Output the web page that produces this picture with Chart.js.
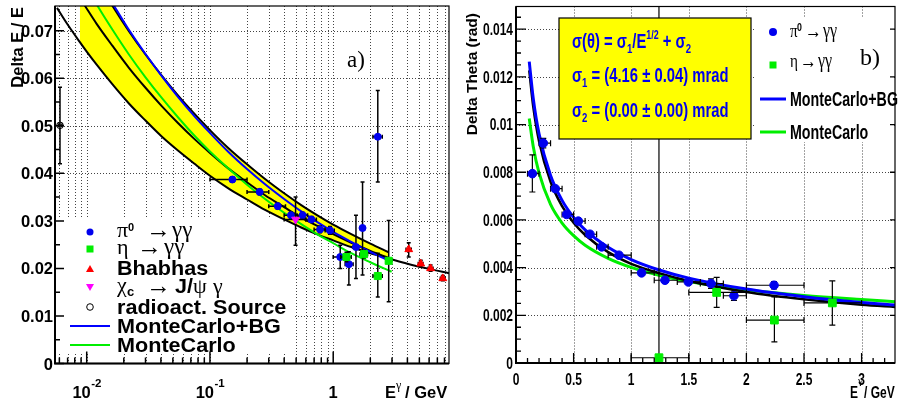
<!DOCTYPE html>
<html><head><meta charset="utf-8">
<script src="https://cdn.jsdelivr.net/npm/chart.js@4.4.1/dist/chart.umd.min.js"></script>
<style>
html,body{margin:0;padding:0;background:#fff;width:908px;height:405px;overflow:hidden}
#wa{position:absolute;left:0;top:0;width:455px;height:405px}
#wb{position:absolute;left:455px;top:0;width:453px;height:405px}
</style></head><body>
<div id="wa"><canvas id="ca"></canvas></div>
<div id="wb"><canvas id="cb"></canvas></div>
<script>
// ================= Panel a) data =================
const aXGrid = [0.006,0.007,0.008,0.009,0.01,0.02,0.03,0.04,0.05,0.06,0.07,0.08,0.09,0.1,0.2,0.3,0.4,0.5,0.6,0.7,0.8,0.9,1,2,3,4,5,6,7,8];
const aXMajor = [0.01,0.1,1];
const aXMajorLbl = ['10','10','1'];
const aXMajorExp = ['-2','-1',''];
const aYMajor = [0,0.01,0.02,0.03,0.04,0.05,0.06,0.07];
const aYLbl = ['0','0.01','0.02','0.03','0.04','0.05','0.06','0.07'];
const aYMinor = [0.005,0.015,0.025,0.035,0.045,0.055,0.065];

// yellow band (upper / lower edge)
const aBandE  = [0.0088,0.0100,0.0120,0.0162,0.022,0.03,0.0408,0.055,0.075,0.1,0.14,0.2,0.28,0.4,0.55,0.75,1.0,1.4,2.0,2.82];
const aBandHi = [0.0870,0.0844,0.0808,0.0752,0.0699,0.0650,0.0605,0.0564,0.0525,0.0491,0.0454,0.0419,0.0388,0.0358,0.0333,0.0311,0.0292,0.0272,0.0252,0.0234];
const aBandLo = [0.0676,0.0656,0.0629,0.0587,0.0547,0.0511,0.0477,0.0448,0.0420,0.0395,0.0369,0.0345,0.0323,0.0303,0.0286,0.0271,0.0259,0.0245,0.0232,0.0221];
// long black lower line
const aLowE = [0.00574,0.0070,0.0088,0.0100,0.0120,0.0162,0.022,0.03,0.0408,0.055,0.075,0.1,0.14,0.2,0.28,0.4,0.55,0.75,1.0,1.4,2.0,2.82,4.0,6.0,8.7];
const aLowR = [0.0748,0.0713,0.0676,0.0656,0.0629,0.0587,0.0547,0.0511,0.0477,0.0448,0.0420,0.0395,0.0369,0.0345,0.0323,0.0303,0.0286,0.0271,0.0259,0.0245,0.0232,0.0221,0.0210,0.0199,0.0190];
// middle black line
const aMidE = [0.0088,0.00964,0.012,0.0162,0.022,0.03,0.0408,0.055,0.075,0.1,0.14,0.2,0.28,0.4,0.55,0.75,1.0,1.4,2.0,2.82];
const aMidR = [0.0769,0.0753,0.0715,0.0668,0.0622,0.0580,0.0541,0.0506,0.0472,0.0443,0.0411,0.0381,0.0354,0.0329,0.0307,0.0289,0.0272,0.0254,0.0237,0.0222];
// MonteCarlo (green)
const aMcE = [0.011,0.01226,0.0162,0.022,0.03,0.0408,0.055,0.075,0.1,0.14,0.2,0.28,0.4,0.55,0.75,1.0,1.4,2.0,2.98];
const aMcR = [0.0773,0.0752,0.0702,0.0650,0.0602,0.0558,0.0518,0.0479,0.0446,0.0411,0.0376,0.0346,0.0317,0.0293,0.0271,0.0253,0.0232,0.0213,0.0193];
// MonteCarlo+BG (blue)
const aMcbgE = [0.015,0.0165,0.022,0.03,0.0408,0.055,0.075,0.1,0.14,0.2,0.28,0.4,0.55,0.75,1.0,1.4,2.0,2.85];
const aMcbgR = [0.0770,0.0754,0.0702,0.0651,0.0604,0.0561,0.0520,0.0485,0.0446,0.0409,0.0377,0.0346,0.0320,0.0297,0.0277,0.0256,0.0235,0.0216];

// pi0 -> gg
const piE   = [0.152,0.253,0.355,0.454,0.564,0.666,0.782,0.941,1.14,1.34,1.53,1.73,2.30];
const piR   = [0.0387,0.0361,0.0331,0.0312,0.0312,0.0303,0.0282,0.0280,0.0224,0.0209,0.0245,0.0285,0.0477];
const piElo = [0.10,0.20,0.30,0.40,0.51,0.60,0.70,0.86,1.00,1.25,1.45,1.65,2.10];
const piEhi = [0.20,0.30,0.41,0.51,0.62,0.73,0.86,1.02,1.25,1.45,1.60,1.80,2.50];
const piRlo = [0.0381,0.0355,0.0325,0.0306,0.0306,0.0297,0.0275,0.0272,0.0200,0.0165,0.0179,0.0186,0.0382];
const piRhi = [0.0393,0.0367,0.0337,0.0318,0.0318,0.0309,0.0289,0.0288,0.0249,0.0235,0.0312,0.0382,0.0574];
// eta -> gg
const etaE   = [1.28,1.78,2.30,2.82];
const etaR   = [0.0224,0.0230,0.0184,0.0216];
const etaElo = [1.15,1.65,2.10,2.70];
const etaEhi = [1.40,1.90,2.50,2.95];
const etaRlo = [0.0214,0.0222,0.0140,0.0130];
const etaRhi = [0.0234,0.0238,0.0232,0.0301];
// Bhabhas
const bhE   = [4.10,5.13,6.17,7.75];
const bhR   = [0.0240,0.0210,0.0200,0.0179];
const bhElo = [3.90,4.90,5.90,7.40];
const bhEhi = [4.30,5.35,6.45,8.10];
const bhRlo = [0.0224,0.0203,0.0194,0.0174];
const bhRhi = [0.0254,0.0217,0.0207,0.0185];
// chi_c -> J/psi gamma
const chiE = [0.495], chiR = [0.0303], chiElo = [0.40], chiEhi = [0.60], chiRlo = [0.0249], chiRhi = [0.0350];
// radioactive source
const srcE = [0.00607], srcR = [0.0501], srcElo = [0.0059], srcEhi = [0.0063], srcRlo = [0.0420], srcRhi = [0.0581];

// ================= Panel b) data =================
const bXMajor = [0,0.5,1,1.5,2,2.5,3];
const bXLbl = ['0','0.5','1','1.5','2','2.5','3'];
const bXMinor = [0.1,0.2,0.3,0.4,0.6,0.7,0.8,0.9,1.1,1.2,1.3,1.4,1.6,1.7,1.8,1.9,2.1,2.2,2.3,2.4,2.6,2.7,2.8,2.9,3.1,3.2];
const bYMajor = [0,0.002,0.004,0.006,0.008,0.01,0.012,0.014];
const bYLbl = ['0','0.002','0.004','0.006','0.008','0.01','0.012','0.014'];
const bYMinor = [0.0005,0.001,0.0015,0.0025,0.003,0.0035,0.0045,0.005,0.0055,0.0065,0.007,0.0075,0.0085,0.009,0.0095,0.0105,0.011,0.0115,0.0125,0.013,0.0135,0.0145];

const bCurveE = [0.115,0.15,0.2,0.3,0.4,0.5,0.6,0.8,1.0,1.25,1.5,2.0,2.5,3.0,3.3];
const bFit  = [0.01227,0.01074,0.0093,0.0076,0.00658,0.00588,0.00537,0.00465,0.00416,0.00376,0.00344,0.00298,0.00267,0.00244,0.00235];
const bMcbg = [0.01264,0.01108,0.00961,0.00786,0.00682,0.00611,0.00558,0.00485,0.00434,0.00389,0.00356,0.0031,0.00278,0.00254,0.00243];
const bMc   = [0.01025,0.00907,0.00797,0.00665,0.00587,0.00534,0.00494,0.00439,0.00401,0.00367,0.00342,0.00307,0.00283,0.00266,0.00257];

const bPiE   = [0.142,0.237,0.341,0.44,0.541,0.642,0.744,0.894,1.09,1.293,1.496,1.693,1.892,2.24];
const bPiT   = [0.00794,0.00922,0.00731,0.00623,0.00595,0.0054,0.00487,0.00452,0.00378,0.00347,0.0034,0.00333,0.00282,0.00326];
const bPiElo = [0.1,0.2,0.3,0.4,0.5,0.6,0.7,0.8,1.0,1.2,1.4,1.6,1.8,2.0];
const bPiEhi = [0.2,0.3,0.4,0.5,0.6,0.7,0.8,1.0,1.2,1.4,1.6,1.8,2.0,2.5];
const bPiTlo = [0.00717,0.00902,0.00721,0.00613,0.00585,0.0053,0.00477,0.00442,0.00368,0.00337,0.0033,0.00313,0.00262,0.00311];
const bPiThi = [0.00873,0.00942,0.00741,0.00633,0.00605,0.0055,0.00497,0.00462,0.00388,0.00357,0.0035,0.00353,0.00302,0.00341];
const bEtaE   = [1.241,1.742,2.243,2.746];
const bEtaT   = [0.00022,0.00296,0.0018,0.00252];
const bEtaElo = [1.0,1.5,2.0,2.5];
const bEtaEhi = [1.5,2.0,2.5,3.0];
const bEtaTlo = [0,0.00233,0.00089,0.00159];
const bEtaThi = [0.016,0.00359,0.00277,0.00344];

// ================= helpers =================
const SANS = '"Liberation Sans", Arial, Helvetica, sans-serif';
const SERIF = '"Liberation Serif", "DejaVu Serif", "Times New Roman", serif';
function fnt(size, o){ return ((o && o.serif) ? '' : 'bold ') + size + 'px ' + ((o && o.serif) ? SERIF : SANS); }
function T(ctx, s, x, y, size, o){
  o = o || {};
  ctx.save();
  ctx.font = fnt(size, o);
  ctx.fillStyle = o.color || '#000';
  ctx.textBaseline = 'alphabetic';
  ctx.translate(x, y);
  if (o.rot) ctx.rotate(o.rot);
  ctx.scale(o.sx || 1, 1);
  ctx.textAlign = o.align || 'left';
  ctx.fillText(s, 0, 0);
  ctx.restore();
}
function W(ctx, s, size, o){ ctx.save(); ctx.font = fnt(size, o); const w = ctx.measureText(s).width * ((o && o.sx) || 1); ctx.restore(); return w; }
function R(ctx, x, y, parts, sx, color){
  ctx.save(); ctx.fillStyle = color || '#000'; ctx.textBaseline='alphabetic'; ctx.textAlign='left';
  ctx.translate(x, y); ctx.scale(sx || 1, 1);
  let cx = 0;
  parts.forEach(p => { ctx.font = fnt(p[1], {serif:p[3]}); ctx.fillText(p[0], cx, p[2] || 0); cx += ctx.measureText(p[0]).width; });
  ctx.restore();
}
function pts(xs, ys){ return xs.map((x,i) => ({x:x, y:ys[i]})); }

const errPlugin = {
  id:'errbars',
  beforeDatasetDraw(chart, args){
    const ds = chart.data.datasets[args.index];
    if (!ds.errs) return;
    const ctx = chart.ctx, ca = chart.chartArea, x = chart.scales.x, y = chart.scales.y, e = ds.errs;
    ctx.save();
    ctx.beginPath(); ctx.rect(ca.left, ca.top, ca.right - ca.left, ca.bottom - ca.top); ctx.clip();
    ctx.strokeStyle = '#000'; ctx.lineWidth = e.lw || 1;
    ctx.beginPath();
    const c = e.cap || 2;
    ds.data.forEach((p, i) => {
      const px = x.getPixelForValue(p.x), py = y.getPixelForValue(p.y);
      if (e.xlo){ const x1 = x.getPixelForValue(e.xlo[i]), x2 = x.getPixelForValue(e.xhi[i]);
        ctx.moveTo(x1, py); ctx.lineTo(x2, py);
        ctx.moveTo(x1, py - c); ctx.lineTo(x1, py + c); ctx.moveTo(x2, py - c); ctx.lineTo(x2, py + c); }
      if (e.ylo){ const y1 = y.getPixelForValue(e.ylo[i]), y2 = y.getPixelForValue(e.yhi[i]);
        ctx.moveTo(px, y1); ctx.lineTo(px, y2);
        ctx.moveTo(px - c, y1); ctx.lineTo(px + c, y1); ctx.moveTo(px - c, y2); ctx.lineTo(px + c, y2); }
    });
    ctx.stroke(); ctx.restore();
  }
};

function gridPlugin(xs, ys, box){
  return {
    id:'grid',
    beforeDatasetsDraw(chart){
      const ctx = chart.ctx, ca = chart.chartArea, x = chart.scales.x, y = chart.scales.y;
      ctx.save();
      ctx.strokeStyle = '#444'; ctx.lineWidth = 1; ctx.setLineDash([1,2]);
      ctx.beginPath();
      xs.forEach(v => { const p = Math.round(x.getPixelForValue(v)) + 0.5; ctx.moveTo(p, ca.top); ctx.lineTo(p, ca.bottom); });
      ys.forEach(v => { const p = Math.round(y.getPixelForValue(v)) + 0.5; ctx.moveTo(ca.left, p); ctx.lineTo(ca.right, p); });
      ctx.stroke();
      ctx.setLineDash([]);
      ctx.fillStyle = '#fff';
      ctx.fillRect(box[0], box[1], box[2], box[3]);
      ctx.restore();
    }
  };
}

function lineDs(xs, ys, color, w, order, extra){
  return Object.assign({type:'line', data:pts(xs, ys), borderColor:color, borderWidth:w, pointRadius:0,
    fill:false, cubicInterpolationMode:'monotone', order:order}, extra || {});
}
function markDs(xs, ys, style, color, r, order, errs, extra){
  return Object.assign({type:'scatter', data:pts(xs, ys), pointStyle:style, pointRadius:r, backgroundColor:color,
    borderColor:color, borderWidth:1, order:order, errs:errs}, extra || {});
}

// ================= Panel a =================
const aDecor = {
  id:'aDecor',
  afterDatasetsDraw(chart){
    const ctx = chart.ctx, ca = chart.chartArea, x = chart.scales.x, y = chart.scales.y;
    ctx.save();
    ctx.strokeStyle = '#000'; ctx.lineWidth = 1.2;
    ctx.strokeRect(ca.left, ca.top, ca.right - ca.left, ca.bottom - ca.top);
    ctx.lineWidth = 2;
    ctx.beginPath(); ctx.moveTo(ca.left, ca.top); ctx.lineTo(ca.left, ca.bottom); ctx.lineTo(ca.right, ca.bottom); ctx.stroke();
    ctx.lineWidth = 1.5; ctx.beginPath();
    aYMajor.forEach(v => { const p = y.getPixelForValue(v); ctx.moveTo(ca.left, p); ctx.lineTo(ca.left + 9, p); });
    aYMinor.forEach(v => { const p = y.getPixelForValue(v); ctx.moveTo(ca.left, p); ctx.lineTo(ca.left + 5, p); });
    aXGrid.forEach(v => { const p = x.getPixelForValue(v); const L = aXMajor.indexOf(v) >= 0 ? 12 : 6; ctx.moveTo(p, ca.bottom); ctx.lineTo(p, ca.bottom - L); });
    ctx.stroke();
    aYMajor.forEach((v, i) => T(ctx, aYLbl[i], 53, y.getPixelForValue(v) + 6, 16.5, {align:'right'}));
    aXMajor.forEach((v, i) => {
      const p = x.getPixelForValue(v);
      if (aXMajorExp[i]) {
        const w1 = W(ctx, aXMajorLbl[i], 16.5), w2 = W(ctx, aXMajorExp[i], 11.5);
        const s = p - (w1 + w2) / 2;
        T(ctx, aXMajorLbl[i], s, 398, 16.5);
        T(ctx, aXMajorExp[i], s + w1 + 0.5, 387, 11.5);
      } else T(ctx, aXMajorLbl[i], p, 398, 16.5, {align:'center'});
    });
    T(ctx, 'E', 385, 398, 16.5);
    T(ctx, 'γ', 396, 389, 12, {serif:true});
    T(ctx, '/ GeV', 405, 398, 16.5);
    T(ctx, 'Delta E / E', 22.5, 7, 16.5, {rot:-Math.PI/2, align:'right'});
    T(ctx, 'a)', 347, 67, 23, {serif:true});
    // legend
    ctx.fillStyle = '#0000ee'; ctx.beginPath(); ctx.arc(90, 232, 3.5, 0, 2*Math.PI); ctx.fill();
    ctx.fillStyle = '#00ee00'; ctx.fillRect(86.5, 245.5, 7, 7);
    ctx.fillStyle = '#ff0000'; ctx.beginPath(); ctx.moveTo(90, 265); ctx.lineTo(94, 272); ctx.lineTo(86, 272); ctx.closePath(); ctx.fill();
    ctx.fillStyle = '#ff00ff'; ctx.beginPath(); ctx.moveTo(90, 291); ctx.lineTo(94, 284); ctx.lineTo(86, 284); ctx.closePath(); ctx.fill();
    ctx.strokeStyle = '#000'; ctx.lineWidth = 1; ctx.beginPath(); ctx.arc(90, 307, 3.3, 0, 2*Math.PI); ctx.stroke();
    ctx.lineWidth = 2;
    ctx.strokeStyle = '#0000ff'; ctx.beginPath(); ctx.moveTo(70, 326); ctx.lineTo(110, 326); ctx.stroke();
    ctx.strokeStyle = '#00ee00'; ctx.beginPath(); ctx.moveTo(70, 345); ctx.lineTo(110, 345); ctx.stroke();
    T(ctx, 'π', 117, 237, 22, {serif:true});
    T(ctx, '0', 128, 231, 11);
    T(ctx, '→', 146, 238, 25, {serif:true});
    T(ctx, 'γγ', 172, 237, 23, {serif:true});
    T(ctx, 'η', 117, 254, 22, {serif:true});
    T(ctx, '→', 137, 255, 25, {serif:true});
    T(ctx, 'γγ', 164, 254, 23, {serif:true});
    T(ctx, 'Bhabhas', 117, 275, 20, {sx:1.08});
    T(ctx, 'χ', 117, 292, 22, {serif:true});
    T(ctx, 'c', 127, 296, 13);
    T(ctx, '→', 146, 294, 25, {serif:true});
    T(ctx, 'J/', 175, 293, 20, {sx:1.08});
    T(ctx, 'ψ', 193, 293, 22, {serif:true});
    T(ctx, 'γ', 213, 293, 22, {serif:true});
    T(ctx, 'radioact. Source', 117, 314, 20, {sx:1.08});
    T(ctx, 'MonteCarlo+BG', 117, 333, 20, {sx:1.08});
    T(ctx, 'MonteCarlo', 117, 352, 20, {sx:1.08});
    ctx.restore();
  }
};

new Chart(document.getElementById('ca'), {
  type:'scatter',
  data:{datasets:[
    lineDs(aBandE, aBandHi, '#000', 2, 50, {fill:1, backgroundColor:'#ffff00'}),
    lineDs(aBandE, aBandLo, 'rgba(0,0,0,0)', 0, 60),
    lineDs(aLowE, aLowR, '#000', 2, 40),
    lineDs(aMidE, aMidR, '#000', 2, 40),
    lineDs(aMcE, aMcR, '#00ee00', 2, 30),
    lineDs(aMcbgE, aMcbgR, '#0000ff', 2, 20),
    markDs(piE, piR, 'circle', '#0000ee', 3.5, 5, {xlo:piElo, xhi:piEhi, ylo:piRlo, yhi:piRhi, lw:1.5, cap:2}),
    markDs(etaE, etaR, 'rect', '#00ee00', 5, 4, {xlo:etaElo, xhi:etaEhi, ylo:etaRlo, yhi:etaRhi, lw:1.5, cap:2}),
    markDs(bhE, bhR, 'triangle', '#ff0000', 4.5, 4, {xlo:bhElo, xhi:bhEhi, ylo:bhRlo, yhi:bhRhi, lw:1.5, cap:2}),
    markDs(chiE, chiR, 'triangle', '#ff00ff', 4.5, 4, {xlo:chiElo, xhi:chiEhi, ylo:chiRlo, yhi:chiRhi, lw:1.5, cap:2}, {rotation:180}),
    markDs(srcE, srcR, 'circle', 'rgba(0,0,0,0)', 3.3, 4, {xlo:srcElo, xhi:srcEhi, ylo:srcRlo, yhi:srcRhi, lw:1.5, cap:2}, {borderColor:'#000'})
  ]},
  options:{
    responsive:true, maintainAspectRatio:false, animation:false, events:[],
    layout:{padding:{top:5, right:2, left:0, bottom:0}},
    plugins:{legend:{display:false}, tooltip:{enabled:false}},
    scales:{
      x:{type:'logarithmic', min:0.00553, max:8.7, ticks:{display:false}, grid:{display:false}, border:{display:false}, afterFit(s){ s.height = 41.5; }},
      y:{type:'linear', min:0, max:0.0752, ticks:{display:false}, grid:{display:false}, border:{display:false}, afterFit(s){ s.width = 55; }}
    }
  },
  plugins:[gridPlugin(aXGrid, aYMajor.slice(1), [57, 219, 238, 135]), errPlugin, aDecor]
});

// ================= Panel b =================
const G = 455;
const bDecor = {
  id:'bDecor',
  afterDatasetsDraw(chart){
    const ctx = chart.ctx, ca = chart.chartArea, x = chart.scales.x, y = chart.scales.y;
    ctx.save();
    ctx.strokeStyle = '#000'; ctx.lineWidth = 1.2;
    ctx.strokeRect(ca.left, ca.top, ca.right - ca.left, ca.bottom - ca.top);
    ctx.lineWidth = 2;
    ctx.beginPath(); ctx.moveTo(ca.left, ca.top); ctx.lineTo(ca.left, ca.bottom); ctx.lineTo(ca.right, ca.bottom); ctx.stroke();
    ctx.lineWidth = 1.3; ctx.beginPath();
    bYMajor.forEach(v => { const p = y.getPixelForValue(v); ctx.moveTo(ca.left, p); ctx.lineTo(ca.left + 10, p); ctx.moveTo(ca.right, p); ctx.lineTo(ca.right - 5, p); });
    bYMinor.forEach(v => { const p = y.getPixelForValue(v); ctx.moveTo(ca.left, p); ctx.lineTo(ca.left + 5, p); });
    bXMajor.forEach(v => { const p = x.getPixelForValue(v); ctx.moveTo(p, ca.bottom); ctx.lineTo(p, ca.bottom - 10); });
    bXMinor.forEach(v => { const p = x.getPixelForValue(v); ctx.moveTo(p, ca.bottom); ctx.lineTo(p, ca.bottom - 5); });
    ctx.stroke();
    bYMajor.forEach((v, i) => T(ctx, bYLbl[i], ca.left - 3, y.getPixelForValue(v) + 5.7, 16, {align:'right', sx:0.75}));
    bXMajor.forEach((v, i) => T(ctx, bXLbl[i], x.getPixelForValue(v), 385, 16, {align:'center', sx:0.75}));
    ctx.translate(-G, 0);
    T(ctx, 'E', 850, 398, 16, {sx:0.75});
    T(ctx, 'γ', 858, 384, 11, {serif:true});
    T(ctx, '/ GeV', 864, 398, 16, {sx:0.75});
    T(ctx, 'Delta Theta (rad)', 477, 13, 15.5, {rot:-Math.PI/2, align:'right'});
    T(ctx, 'b)', 860, 65, 24, {serif:true});
    ctx.fillStyle = '#ffff00'; ctx.fillRect(559, 18, 192, 121);
    ctx.strokeStyle = '#000'; ctx.lineWidth = 1.2; ctx.strokeRect(559, 18, 192, 121);
    const BL = '#0000ee';
    R(ctx, 572, 48, [['σ(θ) = σ',20],['1',13,5],['/E',20],['1/2',12,-9],[' + σ',20],['2',13,5]], 0.74, BL);
    R(ctx, 572, 82, [['σ',20],['1',13,5],[' = (4.16 ± 0.04) mrad',20]], 0.74, BL);
    R(ctx, 572, 116.5, [['σ',20],['2',13,5],[' = (0.00 ± 0.00) mrad',20]], 0.74, BL);
    ctx.fillStyle = '#0000ee'; ctx.beginPath(); ctx.arc(773, 32, 4, 0, 2*Math.PI); ctx.fill();
    ctx.fillStyle = '#00ee00'; ctx.fillRect(769.5, 61.5, 7, 7);
    ctx.lineWidth = 3;
    ctx.strokeStyle = '#0000ff'; ctx.beginPath(); ctx.moveTo(760, 99); ctx.lineTo(786, 99); ctx.stroke();
    ctx.strokeStyle = '#00ee00'; ctx.beginPath(); ctx.moveTo(760, 132); ctx.lineTo(786, 132); ctx.stroke();
    T(ctx, 'π', 790, 37, 19, {serif:true, sx:0.8});
    T(ctx, '0', 797, 31, 11, {sx:0.8});
    T(ctx, '→', 805, 38, 21, {serif:true, sx:0.8});
    T(ctx, 'γγ', 823, 37, 20, {serif:true, sx:0.8});
    T(ctx, 'η', 790, 67, 19, {serif:true, sx:0.8});
    T(ctx, '→', 800, 68, 21, {serif:true, sx:0.8});
    T(ctx, 'γγ', 818, 67, 20, {serif:true, sx:0.8});
    T(ctx, 'MonteCarlo+BG', 790, 106, 19.5, {sx:0.73});
    T(ctx, 'MonteCarlo', 790, 139, 19.5, {sx:0.73});
    ctx.restore();
  }
};

new Chart(document.getElementById('cb'), {
  type:'scatter',
  data:{datasets:[
    lineDs(bCurveE, bMc, '#00ee00', 3, 40),
    lineDs(bCurveE, bFit, '#000', 2.5, 30),
    lineDs(bCurveE, bMcbg, '#0000ff', 3, 20),
    markDs(bPiE, bPiT, 'circle', '#0000ee', 4.3, 5, {xlo:bPiElo, xhi:bPiEhi, ylo:bPiTlo, yhi:bPiThi, lw:1.2, cap:3}),
    markDs(bEtaE, bEtaT, 'rect', '#00ee00', 5.5, 4, {xlo:bEtaElo, xhi:bEtaEhi, ylo:bEtaTlo, yhi:bEtaThi, lw:1.2, cap:3})
  ]},
  options:{
    responsive:true, maintainAspectRatio:false, animation:false, events:[],
    layout:{padding:{top:5.5, right:13, left:0, bottom:0}},
    plugins:{legend:{display:false}, tooltip:{enabled:false}},
    scales:{
      x:{type:'linear', min:0, max:3.29, ticks:{display:false}, grid:{display:false}, border:{display:false}, afterFit(s){ s.height = 42; }},
      y:{type:'linear', min:0, max:0.01495, ticks:{display:false}, grid:{display:false}, border:{display:false}, afterFit(s){ s.width = 61; }}
    }
  },
  plugins:[gridPlugin([0.5,1,1.5,2,2.5,3], bYMajor.slice(1), [755-G, 17, 139, 125]), errPlugin, bDecor]
});
</script>
</body></html>
